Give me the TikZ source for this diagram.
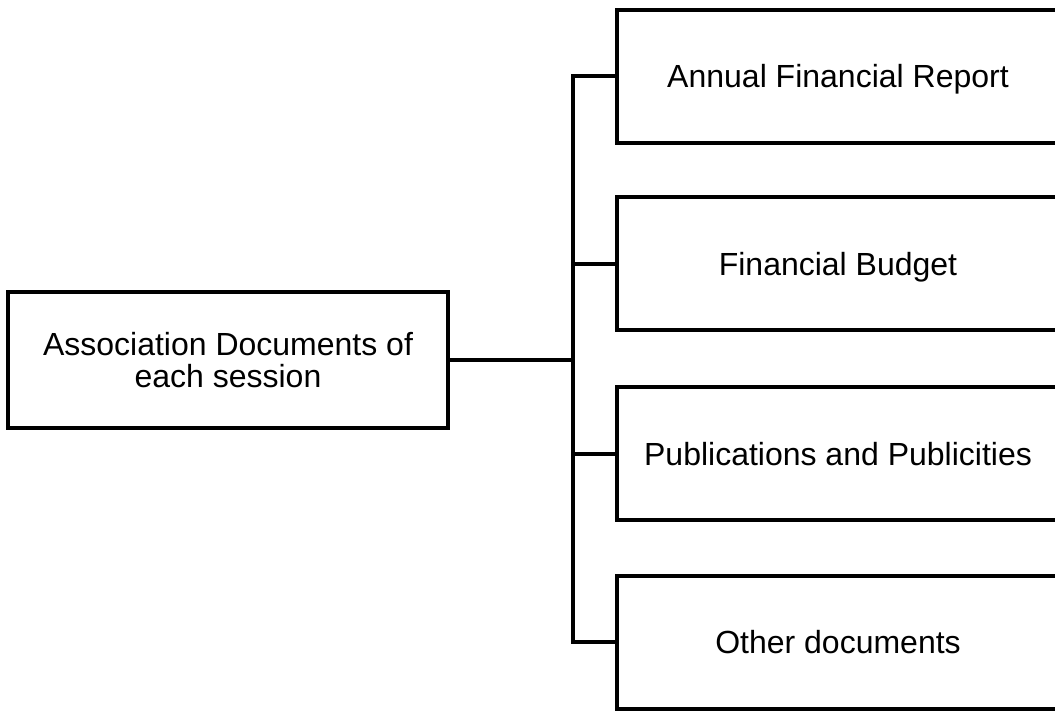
\documentclass[tikz,border=0pt]{standalone}
\usepackage{fontspec}
\setmainfont{Liberation Sans}
\begin{document}
\begin{tikzpicture}[x=1pt,y=-1pt,
  box/.style={draw=black,line width=4pt,align=center,font=\fontsize{32}{31.5}\selectfont,inner sep=0pt,text height=23pt,text depth=0pt},
  mainbox/.style={box,minimum width=440pt,minimum height=136pt,text height=54.5pt},
  itembox/.style={box,minimum width=442pt,minimum height=133pt},
  conn/.style={draw=black,line width=4pt}]
\useasboundingbox (0,0) rectangle (1055,711);
\clip (0,0) rectangle (1055,711);
\node[mainbox] (main) at (228,360) {Association Documents of\\each session};
\node[itembox] (b1) at (838,76.5) {Annual Financial Report};
\node[itembox] (b2) at (838,264) {Financial Budget};
\node[itembox] (b3) at (838,453.5) {Publications and Publicities};
\node[itembox] (b4) at (838,642) {Other documents};
\coordinate (sp) at (573,360);
\draw[conn] (b1.west) -- (sp |- b1.west) -- (sp |- b4.west) -- (b4.west);
\draw[conn] (main.east) -- (sp |- main.east);
\draw[conn] (sp |- b2.west) -- (b2.west);
\draw[conn] (sp |- b3.west) -- (b3.west);
\end{tikzpicture}
\end{document}
